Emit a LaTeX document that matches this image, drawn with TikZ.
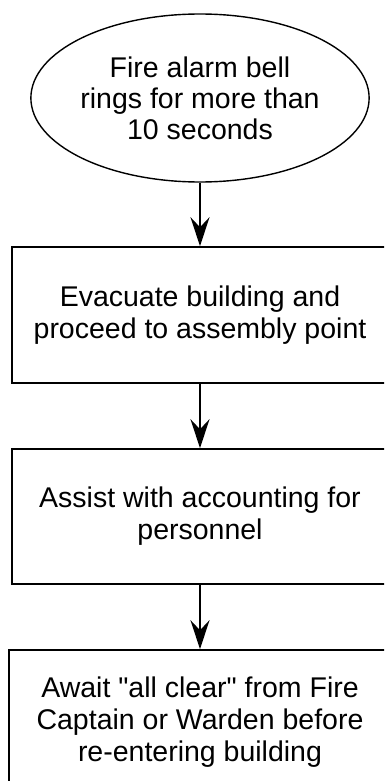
\documentclass[tikz,border=0pt]{standalone}
\usepackage{fontspec}
\setmainfont{Liberation Sans}[Ligatures=TeXOff]
\usetikzlibrary{shapes.geometric,arrows.meta}
\tikzset{
	stepbox/.style={draw,rectangle,line width=1.6pt,inner sep=0pt,align=center,font=\fontsize{28.5}{32}\selectfont},
	startoval/.style={draw,ellipse,line width=1.4pt,inner sep=0pt,align=center,font=\fontsize{28.5}{31}\selectfont},
	flowarrow/.style={-{Stealth[length=29pt,width=19pt,inset=10pt]},line width=1.4pt},
}
\begin{document}
\begin{tikzpicture}[x=1pt,y=1pt]
				\clip (0,0) rectangle (384,-781);
				\fill[white] (0,0) rectangle (384,-781);
				\node[startoval,minimum width=336pt,minimum height=168pt] (alarm) at (200,-98) {Fire alarm bell\\rings for more than\\10 seconds};
				\node[stepbox,minimum width=376pt,minimum height=136pt] (evacuate) at (200,-315) {Evacuate building and\\proceed to assembly point};
				\node[stepbox,minimum width=376pt,minimum height=135pt] (assist) at (200,-516.5) {Assist with accounting for\\personnel};
				\node[stepbox,minimum width=382pt,minimum height=144pt] (await) at (200,-722) {Await "all clear" from Fire\\Captain or Warden before\\re-entering building};
				\foreach \von/\bis in {alarm/evacuate,evacuate/assist,assist/await}	\draw[flowarrow] (\von)--(\bis);
			\end{tikzpicture}
\end{document}
